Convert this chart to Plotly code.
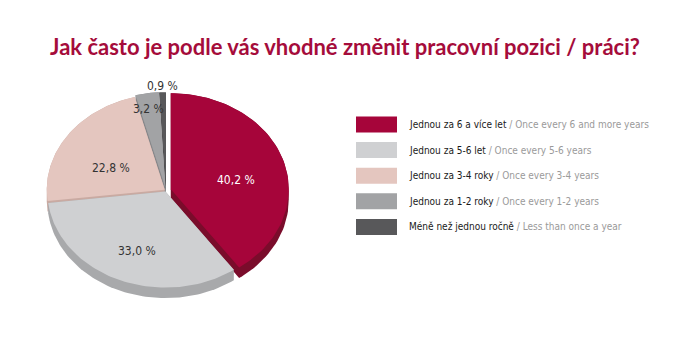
import numpy as np
import plotly.graph_objects as go

# ---------------- data ----------------
title_text = "Jak často je podle vás vhodné změnit pracovní pozici / práci?"
categories_cz = ["Jednou za 6 a více let", "Jednou za 5-6 let", "Jednou za 3-4 roky",
                 "Jednou za 1-2 roky", "Méně než jednou ročně"]
categories_en = ["Once every 6 and more years", "Once every 5-6 years", "Once every 3-4 years",
                 "Once every 1-2 years", "Less than once a year"]
values = [40.2, 33.0, 22.8, 3.2, 0.9]

# ---------------- style ----------------
top_colors = ["#A6053A", "#CFD0D2", "#E4C6BF", "#A2A3A5", "#58585A"]
side_colors = ["#7A0C2B", "#A8A9AB", "#C9AAA2", "#86878A", "#3E3E40"]
label_colors = ["#FFFFFF", "#333333", "#333333", "#333333", "#333333"]
explode = [5.0, 1.5, 1.5, 3.0, 2.5]          # px
label_frac = [0.62, 0.60, 0.56, 0.94, 1.175]  # radial position of labels
W, H = 685, 350
cx, cy = 166.0, 190.5
rx, ry = 118.0, 96.0
depth = 10.5
label_cy = 198.5
small_font = "DejaVu Sans Condensed, Roboto, sans-serif"

def ell(theta, r=1.0, ox=0.0, oy=0.0, c_y=None):
    c_y = cy if c_y is None else c_y
    return (cx + ox + r * rx * np.sin(theta), c_y + oy - r * ry * np.cos(theta))

def hull(points):
    pts = sorted(set(points))
    if len(pts) <= 2:
        return pts
    def cross(o, a, b):
        return (a[0]-o[0])*(b[1]-o[1]) - (a[1]-o[1])*(b[0]-o[0])
    lower, upper = [], []
    for p in pts:
        while len(lower) >= 2 and cross(lower[-2], lower[-1], p) <= 0:
            lower.pop()
        lower.append(p)
    for p in reversed(pts):
        while len(upper) >= 2 and cross(upper[-2], upper[-1], p) <= 0:
            upper.pop()
        upper.append(p)
    return lower[:-1] + upper[:-1]

total = sum(values)
bounds = np.concatenate([[0], np.cumsum(values)]) / total * 2 * np.pi
slices = []
for i, v in enumerate(values):
    a0, a1 = bounds[i], bounds[i + 1]
    mid = (a0 + a1) / 2
    ox = explode[i] * np.sin(mid)
    oy = -explode[i] * np.cos(mid) * ry / rx
    th = np.linspace(a0, a1, 80)
    xs, ys = ell(th, 1.0, ox, oy)
    top = [(cx + ox, cy + oy)] + list(zip(xs, ys))
    shifted = [(p[0], p[1] + depth) for p in top]
    side = hull([(round(p[0], 3), round(p[1], 3)) for p in top + shifted])
    slices.append(dict(i=i, mid=mid, top=top, side=side))

order = sorted(slices, key=lambda s: -np.cos(s["mid"]))  # back first

fig = go.Figure()
for s in order:
    px, py = zip(*(s["side"] + [s["side"][0]]))
    fig.add_trace(go.Scatter(x=px, y=py, mode="lines", fill="toself",
                             fillcolor=side_colors[s["i"]], line=dict(width=0),
                             hoverinfo="skip", showlegend=False))
for s in order:
    px, py = zip(*(s["top"] + [s["top"][0]]))
    fig.add_trace(go.Scatter(x=px, y=py, mode="lines", fill="toself",
                             fillcolor=top_colors[s["i"]], line=dict(width=0),
                             hoverinfo="skip", showlegend=False))

# value labels
for s in slices:
    i = s["i"]
    lx, ly = ell(s["mid"], label_frac[i], c_y=label_cy)
    txt = f"{values[i]:.1f}".replace(".", ",") + " %"
    fig.add_annotation(x=lx, y=ly, text=txt, showarrow=False, xref="x", yref="y",
                       font=dict(family=small_font, size=12, color=label_colors[i]))

# legend
lg_x0, lg_w, lg_h = 356, 41, 16
lg_y0, lg_dy = 124.5, 25.6
for i in range(len(values)):
    yc = lg_y0 + i * lg_dy
    fig.add_shape(type="rect", xref="x", yref="y", x0=lg_x0, x1=lg_x0 + lg_w,
                  y0=yc - lg_h / 2, y1=yc + lg_h / 2, fillcolor=top_colors[i], line=dict(width=0))
    fig.add_annotation(x=lg_x0 + lg_w + 10, y=yc, xanchor="left", showarrow=False,
                       xref="x", yref="y",
                       text=f"<span style='color:#1a1a1a'>{categories_cz[i]}</span>"
                            f"<span style='color:#9a9a9a'> / {categories_en[i]}</span>",
                       font=dict(family=small_font, size=10))

fig.update_layout(
    width=W, height=H, margin=dict(l=0, r=0, t=0, b=0),
    paper_bgcolor="white", plot_bgcolor="white",
    xaxis=dict(range=[0, W], visible=False, fixedrange=True),
    yaxis=dict(range=[H, 0], visible=False, fixedrange=True),
    title=dict(text=f"<b>{title_text}</b>", x=345 / W, xanchor="center",
               y=1 - 47 / H, yanchor="middle",
               font=dict(family="Lato", size=22, color="#A50C3B")),
    showlegend=False,
)
fig.write_html("out.html")
